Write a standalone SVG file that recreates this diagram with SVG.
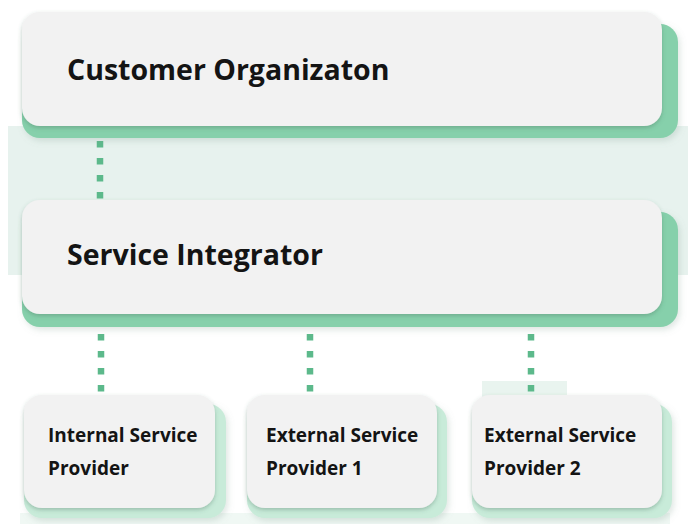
<svg xmlns="http://www.w3.org/2000/svg" width="688" height="524" viewBox="0 0 688 524">
  <defs>
    <filter id="soft" x="-10%" y="-20%" width="120%" height="150%">
      <feDropShadow dx="0" dy="2" stdDeviation="2" flood-color="#3f6f58" flood-opacity="0.35"/>
    </filter>
    <filter id="haze" x="-10%" y="-20%" width="125%" height="150%">
      <feDropShadow dx="2" dy="3" stdDeviation="3" flood-color="#7a9c8c" flood-opacity="0.25"/>
    </filter>
  </defs>
  <style>
    .card { fill: #f2f2f2; }
    .back { fill: #86d0ab; }
    .back-light { fill: #c8ebd9; }
    .title { font-family: "Open Sans", "Liberation Sans", sans-serif; font-weight: 700; font-size: 28.5px; fill: #141414; }
    .label { font-family: "Open Sans", "Liberation Sans", sans-serif; font-weight: 700; font-size: 19px; fill: #141414; }
    .dots { stroke: #5cb98b; stroke-width: 6.5; stroke-dasharray: 6.5 10.5; fill: none; }
  </style>

  <rect width="688" height="524" fill="#ffffff"/>
  <!-- mint band behind the upper link -->
  <rect x="8" y="126" width="680" height="149" fill="#e7f2ee"/>
  <!-- mint patches near the lower row -->
  <rect x="482" y="381" width="85" height="16" fill="#e9f4ef"/>
  <rect x="20" y="513" width="650" height="11" fill="#f0f8f4"/>

  <g id="connectors">
    <line class="dots" x1="100" y1="141" x2="100" y2="200"/>
    <line class="dots" x1="101" y1="334" x2="101" y2="394"/>
    <line class="dots" x1="310" y1="334" x2="310" y2="394"/>
    <line class="dots" x1="531" y1="334" x2="531" y2="394"/>
  </g>

  <g id="customer-organization">
    <rect class="back" x="22" y="24" width="656" height="114" rx="18" filter="url(#haze)"/>
    <rect class="card" x="22" y="12" width="640" height="114" rx="18" filter="url(#soft)"/>
    <text class="title" x="67" y="80">Customer Organizaton</text>
  </g>

  <g id="service-integrator">
    <rect class="back" x="22" y="212" width="656" height="115" rx="18" filter="url(#haze)"/>
    <rect class="card" x="22" y="200" width="640" height="114" rx="18" filter="url(#soft)"/>
    <text class="title" x="67" y="265">Service Integrator</text>
  </g>

  <g id="internal-provider">
    <rect class="back-light" x="24" y="404" width="202" height="114" rx="18" filter="url(#haze)"/>
    <rect class="card" x="24" y="395" width="191" height="113" rx="18" filter="url(#soft)"/>
    <text class="label" x="48" y="442">Internal Service</text>
    <text class="label" x="48" y="475">Provider</text>
  </g>

  <g id="external-provider-1">
    <rect class="back-light" x="247" y="404" width="200" height="114" rx="18" filter="url(#haze)"/>
    <rect class="card" x="247" y="395" width="190" height="113" rx="18" filter="url(#soft)"/>
    <text class="label" x="266" y="442">External Service</text>
    <text class="label" x="266" y="475">Provider 1</text>
  </g>

  <g id="external-provider-2">
    <rect class="back-light" x="472" y="404" width="200" height="114" rx="18" filter="url(#haze)"/>
    <rect class="card" x="472" y="395" width="190" height="113" rx="18" filter="url(#soft)"/>
    <text class="label" x="484" y="442">External Service</text>
    <text class="label" x="484" y="475">Provider 2</text>
  </g>
</svg>
